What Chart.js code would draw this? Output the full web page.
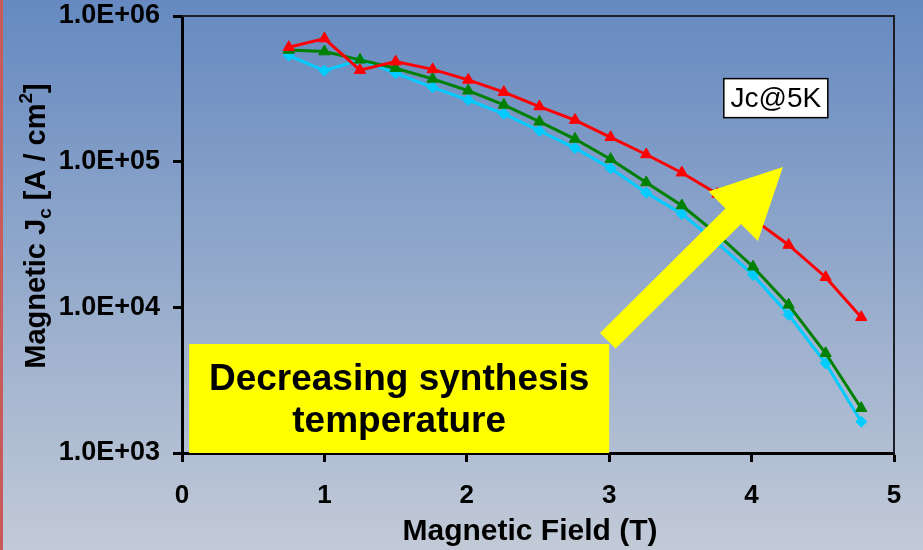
<!DOCTYPE html>
<html>
<head>
<meta charset="utf-8">
<title>Jc@5K</title>
<script src="https://cdn.jsdelivr.net/npm/chart.js@4.4.1/dist/chart.umd.min.js"></script>
<style>
  html, body { margin: 0; padding: 0; background: #c2cad7; overflow: hidden; }
</style>
</head>
<body>
<canvas id="jc-chart" width="923" height="550"></canvas>
<script>
// field values (T) and Jc (A/cm2)
const fieldT = [0.75, 1.0, 1.25, 1.5, 1.76, 2.01, 2.26, 2.51, 2.76, 3.01, 3.26, 3.51, 3.76, 4.01, 4.26, 4.52, 4.77];
const jcRed = [6.1e5, 7.0e5, 4.25e5, 4.86e5, 4.3e5, 3.64e5, 3.0e5, 2.39e5, 1.93e5, 1.47e5, 1.12e5, 8.4e4, 6.0e4, 4.05e4, 2.68e4, 1.61e4, 8.55e3];
const jcGreen = [5.84e5, 5.7e5, 5.0e5, 4.38e5, 3.7e5, 3.07e5, 2.45e5, 1.88e5, 1.43e5, 1.04e5, 7.2e4, 5.0e4, 3.17e4, 1.9e4, 1.04e4, 4.84e3, 2.03e3];
const jcCyan = [5.35e5, 4.22e5, 5.0e5, 4.05e5, 3.24e5, 2.65e5, 2.13e5, 1.63e5, 1.24e5, 9.0e4, 6.13e4, 4.38e4, 2.77e4, 1.67e4, 8.9e3, 4.13e3, 1.64e3];

const xTickValues = [0, 1, 2, 3, 4, 5];
const yTickValues = [1e3, 1e4, 1e5, 1e6];
const yTickLabels = ["1.0E+03", "1.0E+04", "1.0E+05", "1.0E+06"];

const FONT = '"Liberation Sans", Arial, Helvetica, sans-serif';

function toPoints(ys) {
    return fieldT.map((x, i) => ({ x: x, y: ys[i] }));
}

// text and arrow sitting on the plot
const decorations = {
    id: "decorations",
    beforeDraw(chart) {
        const c = chart.ctx;
        const g = c.createLinearGradient(0, 0, 0, chart.height);
        g.addColorStop(0, "#6589c0");
        g.addColorStop(1, "#c2cad7");
        c.save();
        c.fillStyle = g;
        c.fillRect(0, 0, chart.width, chart.height);
        c.fillStyle = "#c85a5a";
        c.fillRect(0, 0, 3, chart.height);
        c.restore();
    },
    beforeDatasetsDraw(chart) {
        const c = chart.ctx;
        const a = chart.chartArea;
        c.save();
        c.strokeStyle = "#1e1e28";
        c.lineWidth = 2;
        c.beginPath();
        c.moveTo(a.left, a.top);
        c.lineTo(a.right, a.top);
        c.lineTo(a.right, a.bottom);
        c.stroke();
        c.restore();
    },
    afterDatasetsDraw(chart) {
        const c = chart.ctx;
        const xs = chart.scales.x;
        const ys = chart.scales.y;
        const a = chart.chartArea;

        // yellow label box
        const bx0 = xs.getPixelForValue(0.05);
        const bx1 = xs.getPixelForValue(3.0);
        const by0 = ys.getPixelForValue(5.6e3);
        c.save();
        c.fillStyle = "#ffff00";
        c.fillRect(bx0, by0, bx1 - bx0, a.bottom - by0);
        c.fillStyle = "#000";
        c.font = "bold 37px " + FONT;
        c.textAlign = "center";
        c.textBaseline = "alphabetic";
        const cx = (bx0 + bx1) / 2;
        c.fillText("Decreasing synthesis", cx, by0 + 46);
        c.fillText("temperature", cx, by0 + 88);
        c.restore();

        // big arrow
        const x0 = xs.getPixelForValue(2.99), y0 = ys.getPixelForValue(5.9e3);
        const x1 = xs.getPixelForValue(4.22), y1 = ys.getPixelForValue(9.2e4);
        const ang = Math.atan2(y1 - y0, x1 - x0);
        const len = Math.hypot(x1 - x0, y1 - y0);
        const sh = 11, hh = 35, hl = 70;
        c.save();
        c.translate(x0, y0);
        c.rotate(ang);
        c.beginPath();
        c.moveTo(0, -sh);
        c.lineTo(len - hl, -sh);
        c.lineTo(len - hl, -hh);
        c.lineTo(len, 0);
        c.lineTo(len - hl, hh);
        c.lineTo(len - hl, sh);
        c.lineTo(0, sh);
        c.closePath();
        c.fillStyle = "#ffff00";
        c.fill();
        c.restore();

        // Jc@5K box
        const jx = xs.getPixelForValue(4.17), jy = ys.getPixelForValue(2.73e5);
        c.save();
        c.fillStyle = "#fff";
        c.strokeStyle = "#000";
        c.lineWidth = 1.5;
        c.fillRect(jx - 52, jy - 19.5, 104, 39);
        c.strokeRect(jx - 52, jy - 19.5, 104, 39);
        c.fillStyle = "#000";
        c.font = "28px " + FONT;
        c.textAlign = "center";
        c.textBaseline = "middle";
        c.fillText("Jc@5K", jx, jy + 1);
        c.restore();
    },
    afterDraw(chart) {
        const c = chart.ctx;
        const a = chart.chartArea;

        // x title
        c.save();
        c.fillStyle = "#000";
        c.font = "bold 30px " + FONT;
        c.textAlign = "center";
        c.textBaseline = "alphabetic";
        c.fillText("Magnetic Field (T)", (a.left + a.right) / 2 - 8, 540);
        c.restore();

        // y title with subscript and superscript
        const parts = [
            { t: "Magnetic J", size: 29, dy: 0 },
            { t: "c", size: 19, dy: 6 },
            { t: " [A / cm", size: 29, dy: 0 },
            { t: "2", size: 19, dy: -13 },
            { t: "]", size: 29, dy: 0 }
        ];
        c.save();
        c.fillStyle = "#000";
        c.textBaseline = "alphabetic";
        c.textAlign = "left";
        let total = 0;
        parts.forEach(p => {
            c.font = "bold " + p.size + "px " + FONT;
            p.w = c.measureText(p.t).width;
            total += p.w;
        });
        c.translate(45, 226);
        c.rotate(-Math.PI / 2);
        let px = -total / 2;
        parts.forEach(p => {
            c.font = "bold " + p.size + "px " + FONT;
            c.fillText(p.t, px, p.dy);
            px += p.w;
        });
        c.restore();
    }
};

const ctx = document.getElementById("jc-chart").getContext("2d");

const jcChart = new Chart(ctx, {
    type: "line",
    data: {
        datasets: [
            {
                label: "Sample 1",
                data: toPoints(jcRed),
                borderColor: "#ff0000",
                backgroundColor: "#ff0000",
                borderWidth: 3,
                pointStyle: "triangle",
                pointRadius: 6.5,
                pointBorderWidth: 1,
                tension: 0
            },
            {
                label: "Sample 2",
                data: toPoints(jcGreen),
                borderColor: "#008000",
                backgroundColor: "#008000",
                borderWidth: 3,
                pointStyle: "triangle",
                pointRadius: 6.5,
                pointBorderWidth: 1,
                tension: 0
            },
            {
                label: "Sample 3",
                data: toPoints(jcCyan),
                borderColor: "#00ccff",
                backgroundColor: "#00ccff",
                borderWidth: 3,
                pointStyle: "rectRot",
                pointRadius: 5.5,
                pointBorderWidth: 1,
                tension: 0
            }
        ]
    },
    options: {
        responsive: false,
        animation: false,
        devicePixelRatio: 1,
        events: [],
        layout: {
            padding: { left: 0, top: 16, right: 29, bottom: 0 }
        },
        plugins: {
            legend: { display: false },
            tooltip: { enabled: false }
        },
        scales: {
            x: {
                type: "linear",
                min: 0,
                max: 5,
                afterFit(s) {
                    s.height = 97;
                    s.paddingLeft = 0;
                    s.paddingRight = 0;
                },
                afterBuildTicks(s) { s.ticks = xTickValues.map(v => ({ value: v })); },
                ticks: {
                    color: "#000",
                    font: { family: FONT, size: 26, weight: "bold" },
                    padding: 18,
                    maxRotation: 0,
                    autoSkip: false
                },
                grid: {
                    drawOnChartArea: false,
                    drawTicks: true,
                    tickLength: 9,
                    tickWidth: 3,
                    tickColor: "#000",
                    color: "#000"
                },
                border: { display: true, color: "#000", width: 3 }
            },
            y: {
                type: "logarithmic",
                min: 1e3,
                max: 1e6,
                afterFit(s) {
                    s.width = 182;
                    s.paddingTop = 0;
                    s.paddingBottom = 0;
                },
                afterBuildTicks(s) { s.ticks = yTickValues.map(v => ({ value: v })); },
                ticks: {
                    color: "#000",
                    font: { family: FONT, size: 27, weight: "bold" },
                    padding: 13,
                    autoSkip: false,
                    callback: (value, index) => yTickLabels[index]
                },
                grid: {
                    drawOnChartArea: false,
                    drawTicks: true,
                    tickLength: 9,
                    tickWidth: 3,
                    tickColor: "#000",
                    color: "#000"
                },
                border: { display: true, color: "#000", width: 3 }
            }
        }
    },
    plugins: [decorations]
});
</script>
</body>
</html>
